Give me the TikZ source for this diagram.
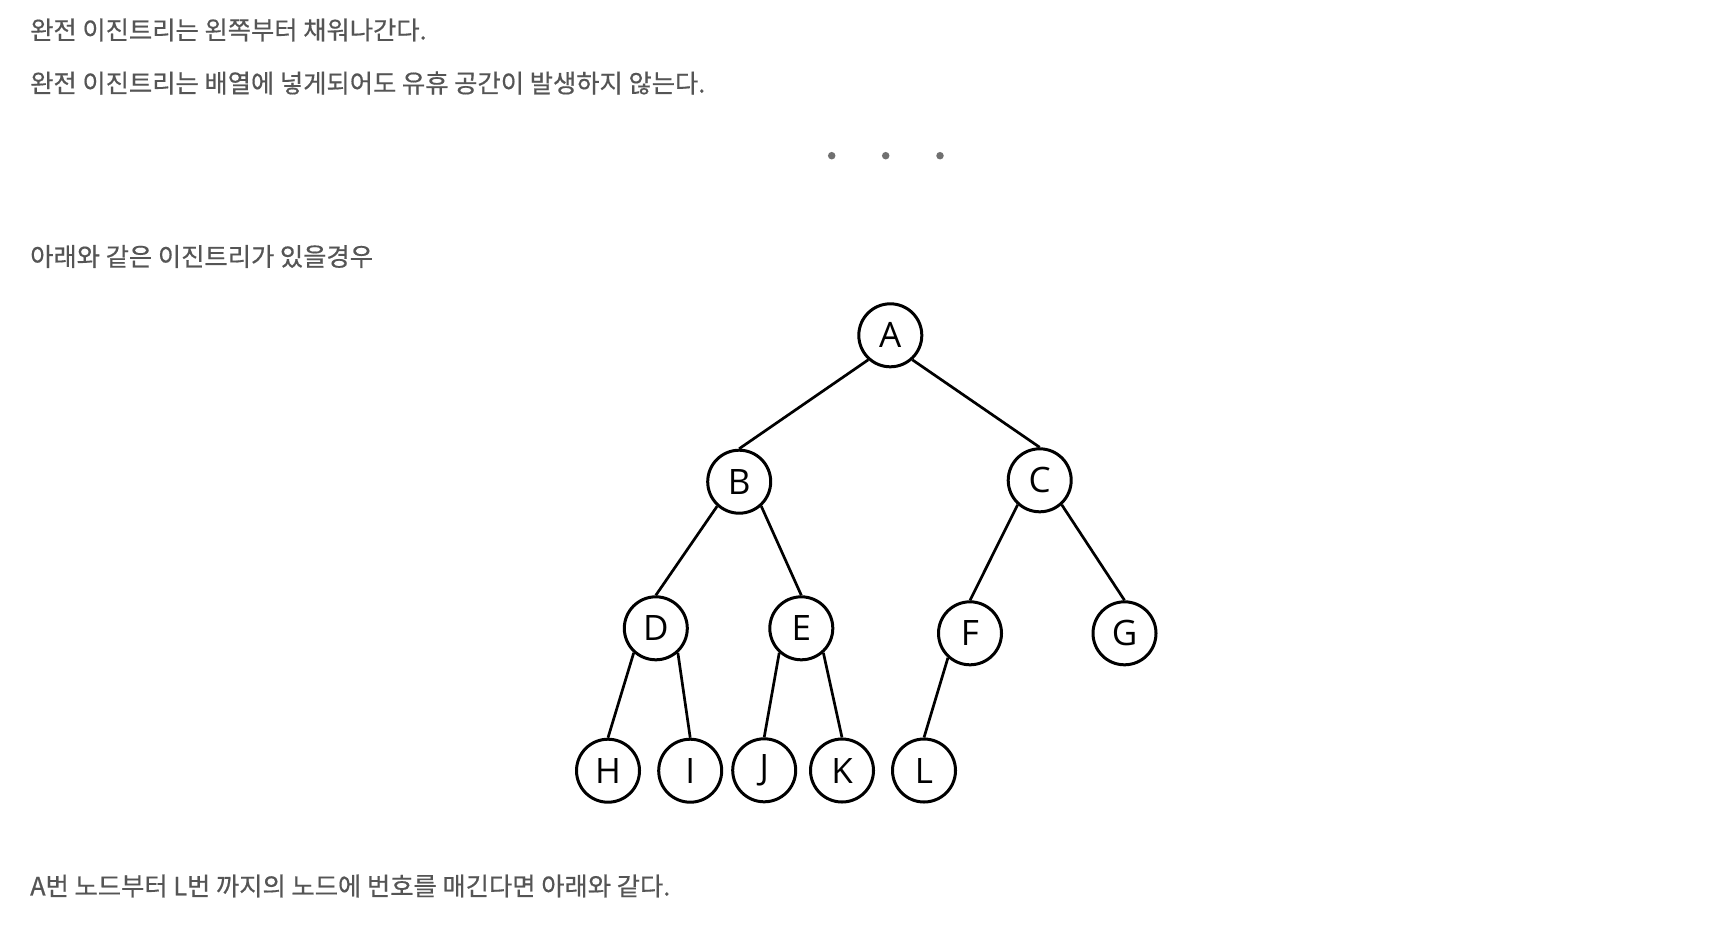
\documentclass[tikz,border=0pt]{standalone}
\usepackage{fontspec}
\newfontfamily\kr{Noto Sans CJK KR}[FakeBold=0.5]
\newfontfamily\lab{Open Sans}
\definecolor{txtc}{HTML}{555555}
\definecolor{dotc}{HTML}{707070}
\begin{document}
\begin{tikzpicture}[x=1pt,y=-1pt,
  treenode/.style={circle,draw=black,line width=3pt,minimum size=63pt,inner sep=0pt,
    font=\lab\fontsize{35}{40}\selectfont},
  edge/.style={line width=2.7pt,draw=black},
  para/.style={anchor=west,inner sep=0pt,text=txtc,font=\kr\fontsize{25.3}{28}\selectfont},
  dotmark/.style={circle,fill=dotc,inner sep=0pt,minimum size=7.5pt}]
\useasboundingbox (0,0) rectangle (1734,932);
\fill[white] (0,0) rectangle (1734,932);

\node[para] (t1) at (30,30) {완전 이진트리는 왼쪽부터 채워나간다.};
\node[para] (t2) at (30,83) {완전 이진트리는 배열에 넣게되어도 유휴 공간이 발생하지 않는다.};
\node[dotmark] (d1) at (831.7,155.7) {};
\node[dotmark] (d2) at (885.7,155.7) {};
\node[dotmark] (d3) at (940,155.7) {};
\node[para] (t3) at (30,256.5) {아래와 같은 이진트리가 있을경우};
\node[para] (t4) at (30,886) {A번 노드부터 L번 까지의 노드에 번호를 매긴다면 아래와 같다.};

\node[treenode] (A) at (890.3,335.3) {A};
\node[treenode] (B) at (739.2,481.7) {B};
\node[treenode] (C) at (1039.7,480.3) {C};
\node[treenode] (D) at (655.8,628.3) {D};
\node[treenode] (E) at (801.3,628.3) {E};
\node[treenode] (F) at (970,633.3) {F};
\node[treenode] (G) at (1124.5,633.3) {G};
\node[treenode] (H) at (608,770.7) {H};
\node[treenode] (I) at (690.2,770.7) {I};
\node[treenode] (J) at (764.2,770.3) {J};
\node[treenode] (K) at (842,770.5) {K};
\node[treenode] (L) at (924,770.5) {L};

\draw[edge] (A.228) -- (B.north);
\draw[edge] (A.312) -- (C.north);
\draw[edge] (B.228) -- (D.north);
\draw[edge] (B.312) -- (E.north);
\draw[edge] (C.228) -- (F.north);
\draw[edge] (C.312) -- (G.north);
\draw[edge] (D.228) -- (H.north);
\draw[edge] (D.312) -- (I.north);
\draw[edge] (E.228) -- (J.north);
\draw[edge] (E.312) -- (K.north);
\draw[edge] (F.228) -- (L.north);
\end{tikzpicture}
\end{document}
